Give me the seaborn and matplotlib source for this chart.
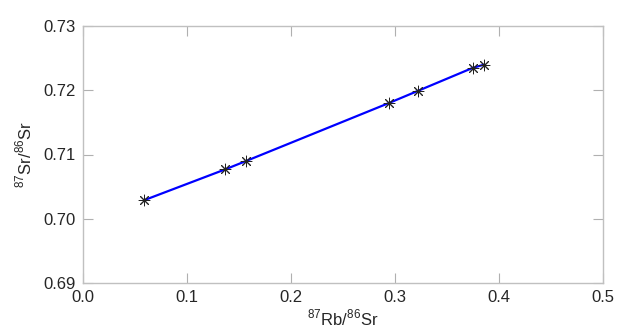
import numpy as np
import pandas as pd
import matplotlib
matplotlib.use('Agg')
import matplotlib.pyplot as plt
import seaborn as sns

# isochron data
rb_sr = [0.059, 0.137, 0.157, 0.294, 0.322, 0.375, 0.386]
sr_sr = [0.7029, 0.7077, 0.7090, 0.7180, 0.7199, 0.7235, 0.7240]
x_ticks = [0.0, 0.1, 0.2, 0.3, 0.4, 0.5]
y_ticks = [0.69, 0.70, 0.71, 0.72, 0.73]

data = pd.DataFrame({'Rb': rb_sr, 'Sr': sr_sr})

sns.set_style('ticks')
plt.rcParams['font.family'] = ['Liberation Sans', 'DejaVu Sans']
plt.rcParams['mathtext.fontset'] = 'custom'
plt.rcParams['mathtext.rm'] = 'Liberation Sans'

fig = plt.figure(figsize=(6.28, 3.36), dpi=100)
ax = fig.add_axes([83 / 628, 53 / 336, 520 / 628, 257 / 336])

# fitted line through the samples
sns.lineplot(data=data, x='Rb', y='Sr', color='#0000ff', linewidth=1.6, ax=ax, zorder=2)
# asterisk markers
sns.scatterplot(data=data, x='Rb', y='Sr', marker=(8, 2, 0), s=60, color='#222222',
                linewidth=0.7, ax=ax, zorder=3)

ax.set_xlim(0, 0.5)
ax.set_ylim(0.69, 0.73)
ax.set_xticks(x_ticks)
ax.set_yticks(y_ticks)
ax.set_xticklabels(['%.1f' % t for t in x_ticks])
ax.set_yticklabels(['%.2f' % t for t in y_ticks])

ax.tick_params(direction='in', length=7, width=0.8, color='#b0b0b0',
               top=True, right=True, labelsize=12, pad=5)
for s in ax.spines.values():
    s.set_color('#c0c0c0')
    s.set_linewidth(1.0)

ax.set_xlabel(r'$^{87}$Rb/$^{86}$Sr', fontsize=12, labelpad=2)
ax.set_ylabel(r'$^{87}$Sr/$^{86}$Sr', fontsize=12, labelpad=7)

fig.savefig('out.png', dpi=100)
